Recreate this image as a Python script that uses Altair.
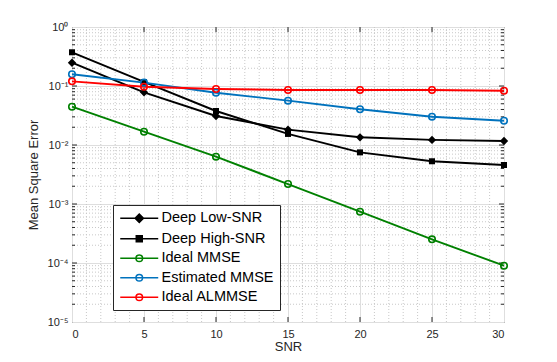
import altair as alt
import pandas as pd

# ---------------- data ----------------
snr = [0, 5, 10, 15, 20, 25, 30]
deep_low = [0.248, 0.0782, 0.031, 0.0182, 0.0135, 0.0122, 0.0117]
deep_high = [0.373, 0.117, 0.0377, 0.0154, 0.0075, 0.0053, 0.00458]
ideal_mmse = [0.0446, 0.0168, 0.00634, 0.00218, 0.00074, 0.000252, 0.0000899]
est_mmse = [0.158, 0.114, 0.077, 0.0564, 0.0403, 0.0302, 0.0258]
ideal_almmse = [0.120, 0.0973, 0.0889, 0.0856, 0.0856, 0.0856, 0.0832]

names = ["Deep Low-SNR", "Deep High-SNR", "Ideal MMSE", "Estimated MMSE", "Ideal ALMMSE"]
series_vals = [deep_low, deep_high, ideal_mmse, est_mmse, ideal_almmse]
colors = ["#000000", "#000000", "#008000", "#0072BD", "#FF0000"]
markers = ["diamond", "square", "circle", "circle", "circle"]
filled = [True, True, False, False, False]

x_ticks = [0, 5, 10, 15, 20, 25, 30]
x_major_inner = [5, 10, 15, 20, 25]
x_minor = [1, 2, 3, 4, 6, 7, 8, 9, 11, 12, 13, 14, 16, 17, 18, 19,
           21, 22, 23, 24, 26, 27, 28, 29]
y_ticks = [1e-5, 1e-4, 1e-3, 1e-2, 1e-1, 1]
y_major_inner = [1e-4, 1e-3, 1e-2, 1e-1]
y_minor = [m * 10.0 ** k for k in range(-5, 0) for m in range(2, 10)]

rows = []
for n, vals in zip(names, series_vals):
    for s, v in zip(snr, vals):
        rows.append({"snr": s, "mse": v, "series": n})
df = pd.DataFrame(rows)

W, H = 432, 295
FONT = "Liberation Sans"

xs = alt.Scale(domain=[0, 30], nice=False, zero=False)
ys = alt.Scale(type="log", domain=[1e-5, 1], nice=False)
cs = alt.Scale(domain=names, range=colors)

sup = ("'10' + (datum.value > 0.5 ? '⁰' : datum.value > 0.05 ? '⁻¹' : "
       "datum.value > 0.005 ? '⁻²' : datum.value > 0.0005 ? '⁻³' : "
       "datum.value > 0.00005 ? '⁻⁴' : '⁻⁵')")

x_axis = alt.Axis(values=x_ticks, title="SNR", grid=True, ticks=False,
                  labelPadding=6, labelFontSize=11, titleFontSize=13,
                  titleFontWeight="normal", titleY=28, titleBaseline="alphabetic",
                  domain=False, labelColor="#262626", titleColor="#262626")
y_axis = alt.Axis(values=y_ticks, title="Mean Square Error", grid=True, ticks=False,
                  labelExpr=sup, labelPadding=4, labelFontSize=11, titleFontSize=13,
                  titleFontWeight="normal", titleX=-39, titleY=H / 2,
                  titleAlign="center", titleBaseline="middle", domain=False,
                  labelColor="#262626", titleColor="#262626")


def X(field):
    return alt.X(field, type="quantitative", scale=xs, axis=x_axis)


def Y(field):
    return alt.Y(field, type="quantitative", scale=ys, axis=y_axis)


# minor dotted grid
gx_df = pd.DataFrame({"gx": x_minor})
gy_df = pd.DataFrame({"gy": y_minor})
grid_style = dict(color="#c8c8c8", strokeDash=[1, 2], strokeWidth=1)
minor_x = alt.Chart(gx_df).mark_rule(**grid_style).encode(x=X("gx"))
minor_y = alt.Chart(gy_df).mark_rule(**grid_style).encode(y=Y("gy"))

# inward ticks
tx_df = pd.DataFrame({"tx": x_major_inner})
ty_df = pd.DataFrame({"ty": y_major_inner})
tm_df = pd.DataFrame({"tm": y_minor})
tick_style = dict(color="#262626", strokeWidth=1)
ticks = [
    alt.Chart(tx_df).mark_rule(**tick_style).encode(
        x=X("tx"), y=alt.value(H), y2=alt.value(H - 5)),
    alt.Chart(tx_df).mark_rule(**tick_style).encode(
        x=X("tx"), y=alt.value(0), y2=alt.value(5)),
    alt.Chart(ty_df).mark_rule(**tick_style).encode(
        y=Y("ty"), x=alt.value(0), x2=alt.value(5)),
    alt.Chart(ty_df).mark_rule(**tick_style).encode(
        y=Y("ty"), x=alt.value(W), x2=alt.value(W - 5)),
    alt.Chart(tm_df).mark_rule(**tick_style).encode(
        y=Y("tm"), x=alt.value(0), x2=alt.value(3)),
    alt.Chart(tm_df).mark_rule(**tick_style).encode(
        y=Y("tm"), x=alt.value(W), x2=alt.value(W - 3)),
]

line_layers = []
point_layers = []
for n, col, m, f in zip(names, colors, markers, filled):
    base = alt.Chart(df).transform_filter(alt.datum.series == n)
    line_layers.append(base.mark_line(color=col, strokeWidth=1.9).encode(
        x=X("snr"), y=Y("mse")))
    size = 70 if m == "diamond" else (36 if m == "square" else 42)
    point_layers.append(base.mark_point(
        shape=m, filled=f, size=size, strokeWidth=1.6, opacity=1, color=col,
    ).encode(x=X("snr"), y=Y("mse")))

# legend symbols: line + marker (custom paths, unit = sqrt(size)/2 px)
line_p = "M-1,0L5.33,0"
c = 2.17
circle_p = (f"M{c-0.55:.2f},0A0.55,0.55 0 1,1 {c+0.55:.2f},0"
            f"A0.55,0.55 0 1,1 {c-0.55:.2f},0")
diamond_p = (f"M{c-0.7:.2f},0L{c:.2f},-0.7L{c+0.7:.2f},0L{c:.2f},0.7Z"
             f"M{c-0.35:.2f},0L{c:.2f},-0.35L{c+0.35:.2f},0L{c:.2f},0.35Z")
square_p = (f"M{c-0.5:.2f},-0.5L{c+0.5:.2f},-0.5L{c+0.5:.2f},0.5L{c-0.5:.2f},0.5Z"
            f"M{c-0.25:.2f},-0.25L{c+0.25:.2f},-0.25L{c+0.25:.2f},0.25L{c-0.25:.2f},0.25Z")
paths = [line_p + diamond_p, line_p + square_p, line_p + circle_p,
         line_p + circle_p, line_p + circle_p]

leg = alt.Legend(title=None, orient="none", legendX=41, legendY=178,
                 labelFontSize=14.5, labelFont=FONT, labelColor="#000000",
                 symbolSize=144, symbolStrokeWidth=1.5, labelOffset=28,
                 padding=6, rowPadding=4.5, strokeColor="#262626",
                 fillColor="white")
legend_layer = alt.Chart(df).transform_filter(alt.datum.snr < -100).mark_point(
    filled=False, size=144, strokeWidth=1.5, opacity=1).encode(
    x=X("snr"), y=Y("mse"),
    color=alt.Color("series:N", scale=cs, legend=leg),
    shape=alt.Shape("series:N", scale=alt.Scale(domain=names, range=paths), legend=leg),
)

chart = alt.layer(minor_x, minor_y, *ticks, *line_layers, *point_layers,
                  legend_layer).properties(
    width=W, height=H,
    autosize=alt.AutoSizeParams(type="none"),
    padding={"left": 64, "top": 19, "right": 45, "bottom": 32},
).configure_view(stroke="#262626", strokeWidth=1).configure_axis(
    gridColor="#dedede", gridWidth=1, labelFont=FONT, titleFont=FONT
).configure_legend(strokeWidth=1)

chart.save("out.html", embed_options={"renderer": "svg", "actions": False})
